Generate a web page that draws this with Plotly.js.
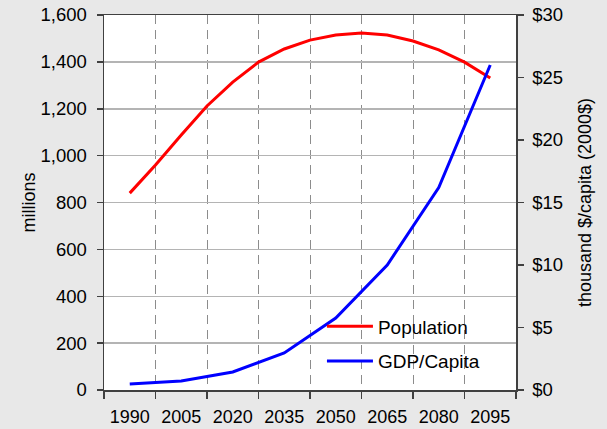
<!DOCTYPE html>
<html>
<head>
<meta charset="utf-8">
<script src="https://cdn.plot.ly/plotly-3.0.1.min.js"></script>
<style>html,body{margin:0;padding:0;background:#e8e8e8;}#chart{width:607px;height:429px;}</style>
</head>
<body>
<div id="chart"></div>
<script>
// Population (millions), read every 7.5 years
var popYears = [1990, 1997.5, 2005, 2012.5, 2020, 2027.5, 2035, 2042.5, 2050, 2057.5, 2065, 2072.5, 2080, 2087.5, 2095];
var population = [840, 960, 1088, 1212, 1314, 1399, 1455, 1493, 1515, 1523, 1515, 1489, 1451, 1399, 1331];
// GDP per capita (thousand 2000$)
var gdpYears = [1990, 2005, 2020, 2035, 2050, 2065, 2080, 2095];
var gdpPerCapita = [0.48, 0.72, 1.44, 2.96, 5.76, 10.0, 16.2, 26.0];
// x-axis labels (category centres) and category boundaries
var tickLabels = ['1990', '2005', '2020', '2035', '2050', '2065', '2080', '2095'];
var labelYears = [1990, 2005, 2020, 2035, 2050, 2065, 2080, 2095];
var boundaries = [1982.5, 1997.5, 2012.5, 2027.5, 2042.5, 2057.5, 2072.5, 2087.5, 2102.5];

var fam = 'Liberation Sans, Arial, sans-serif';
var font = {family: fam, size: 18.5, color: '#000'};

var traces = [
  {x: popYears, y: population, type: 'scatter', mode: 'lines', name: 'Population',
   line: {color: '#ff0000', width: 3}, xaxis: 'x', yaxis: 'y', legendgroup: 'a'},
  {x: gdpYears, y: gdpPerCapita, type: 'scatter', mode: 'lines', name: 'GDP/Capita',
   line: {color: '#0000ff', width: 3}, xaxis: 'x', yaxis: 'y2', legendgroup: 'b'},
  {x: [], y: [], xaxis: 'x2', yaxis: 'y', showlegend: false, hoverinfo: 'skip'}
];

var layout = {
  width: 607, height: 429,
  paper_bgcolor: '#e8e8e8', plot_bgcolor: '#ffffff',
  margin: {l: 104, r: 91, t: 15, b: 39},
  font: font,
  showlegend: true,
  legend: {x: 0.529, y: 0.22, xanchor: 'left', yanchor: 'top', bgcolor: 'rgba(0,0,0,0)',
           font: {family: fam, size: 19, color: '#000'}, traceorder: 'grouped', tracegroupgap: 7,
           itemwidth: 46},
  xaxis: {
    range: [1982.5, 2102.5], tickmode: 'array', tickvals: boundaries, ticktext: boundaries.map(function(){return '';}),
    showgrid: true, gridcolor: '#8c8c8c', griddash: '9px,6px', gridwidth: 1,
    ticks: 'outside', ticklen: 7, tickcolor: '#404040', tickwidth: 1.5,
    showline: true, linecolor: '#404040', linewidth: 1.5, mirror: true, zeroline: false
  },
  xaxis2: {
    overlaying: 'x', matches: 'x', anchor: 'y', side: 'bottom',
    range: [1982.5, 2102.5], tickmode: 'array', tickvals: labelYears, ticktext: tickLabels,
    showgrid: false, ticks: '', showline: false, zeroline: false,
    tickfont: {family: fam, size: 18, color: '#000'},
    ticklabelstandoff: 14
  },
  yaxis: {
    range: [0, 1600], dtick: 200, tickformat: ',d',
    showgrid: true, gridcolor: '#b4b4b4', gridwidth: 1.5,
    ticks: 'outside', ticklen: 6, tickcolor: '#404040', tickwidth: 1.5, ticklabelstandoff: 6,
    showline: true, linecolor: '#404040', linewidth: 1.5, zeroline: false,
    title: {text: 'millions', font: {family: fam, size: 18, color: '#000'}, standoff: 0},
    tickfont: font
  },
  yaxis2: {
    overlaying: 'y', side: 'right', anchor: 'x',
    range: [0, 30], dtick: 5, tickprefix: '$',
    showgrid: false, zeroline: false,
    ticks: 'outside', ticklen: 6, tickcolor: '#404040', tickwidth: 1.5, ticklabelstandoff: 5,
    showline: true, linecolor: '#404040', linewidth: 1.5,
    title: {text: 'thousand $/capita (2000$)', font: {family: fam, size: 18, color: '#000'}, standoff: 16},
    tickfont: font
  }
};

Plotly.newPlot('chart', traces, layout, {displayModeBar: false, staticPlot: true});
</script>
</body>
</html>
